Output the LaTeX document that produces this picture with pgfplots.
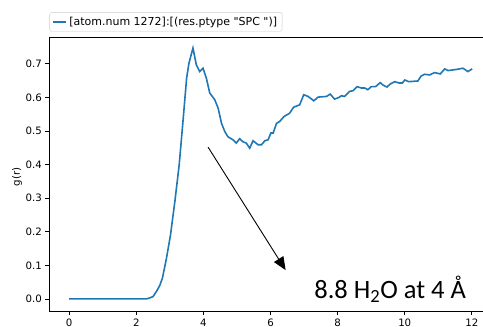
\documentclass[border=0pt]{standalone}
\usepackage{pgfplots}
\pgfplotsset{compat=1.18}
\usepackage{fontspec}
\setmainfont{DejaVu Sans}
\newfontfamily\annfont{Carlito}
\usetikzlibrary{arrows.meta}
\definecolor{mplblue}{HTML}{1F77B4}
\pgfplotstableread{
x y
0.00 0.000
2.30 0.000
2.40 0.003
2.50 0.007
2.60 0.022
2.70 0.040
2.78 0.062
2.90 0.121
3.02 0.190
3.15 0.290
3.28 0.400
3.40 0.538
3.50 0.657
3.57 0.702
3.69 0.747
3.79 0.697
3.89 0.677
3.99 0.687
4.09 0.657
4.19 0.613
4.34 0.593
4.44 0.568
4.54 0.523
4.64 0.498
4.73 0.483
4.88 0.474
4.98 0.464
5.08 0.477
5.18 0.468
5.28 0.464
5.38 0.449
5.48 0.471
5.63 0.459
5.73 0.459
5.83 0.471
5.93 0.474
6.01 0.494
6.08 0.494
6.18 0.523
6.27 0.528
6.40 0.543
6.57 0.553
6.69 0.571
6.87 0.578
6.99 0.608
7.12 0.603
7.29 0.590
7.42 0.601
7.67 0.603
7.78 0.610
7.91 0.595
8.04 0.600
8.11 0.605
8.21 0.603
8.36 0.618
8.46 0.620
8.58 0.632
8.71 0.628
8.81 0.628
8.90 0.623
9.00 0.632
9.13 0.632
9.27 0.644
9.35 0.637
9.47 0.631
9.57 0.640
9.70 0.647
9.83 0.643
9.93 0.643
10.00 0.652
10.12 0.647
10.39 0.649
10.49 0.664
10.59 0.669
10.74 0.667
10.89 0.674
11.06 0.670
11.19 0.685
11.29 0.680
11.44 0.682
11.58 0.684
11.73 0.687
11.78 0.684
11.88 0.677
12.01 0.685
}\gdr
\begin{document}
\begin{tikzpicture}
\begin{axis}[
  at={(49pt,15.3pt)}, anchor=south west,
  scale only axis, width=443pt, height=274.7pt,
  xmin=-0.6, xmax=12.6, ymin=-0.038, ymax=0.780,
  xtick={0,2,4,6,8,10,12},
  ytick={0,0.1,0.2,0.3,0.4,0.5,0.6,0.7},
  tick align=outside, tick pos=left,
  major tick length=3.5pt,
  tick style={black, line width=0.8pt},
  axis line style={black, line width=0.8pt},
  /pgf/number format/assume math mode=true,
  yticklabel style={/pgf/number format/fixed, /pgf/number format/fixed zerofill, /pgf/number format/precision=1},
  ticklabel style={font=\fontsize{10.2}{12}\selectfont, text=black},
  ylabel={g(r)},
  ylabel style={at={(axis description cs:-0.0722,0.49)}, anchor=center, rotate=0, font=\fontsize{10.2}{12}\selectfont},
  legend style={at={(0,1)}, anchor=south west, yshift=5.5pt, xshift=0.5pt, draw=black!20, rounded corners=2pt, font=\fontsize{11}{12}\selectfont, inner xsep=3pt, inner ysep=2.5pt},
  legend image code/.code={\draw[mplblue, line width=1.6pt] (0pt,0pt) -- (13pt,0pt);},
]
\addplot[mplblue, line width=1.6pt] table[x=x, y=y] {\gdr};
\addlegendentry{[atom.num 1272]:[(res.ptype \textquotedbl SPC \textquotedbl)]}
\draw[black, line width=0.9pt, -{Triangle[length=13pt, width=11pt]}] (axis cs:4.14,0.452) -- (axis cs:6.45,0.086);
\node[anchor=base west, inner sep=0pt, font=\annfont\fontsize{26.5}{30}\selectfont] at (axis cs:7.30,0.0) {8.8 H\textsubscript{2}O at 4 Å};
\end{axis}
\pgfresetboundingbox
\useasboundingbox (0,0) rectangle (483pt,327pt);
\end{tikzpicture}
\end{document}
